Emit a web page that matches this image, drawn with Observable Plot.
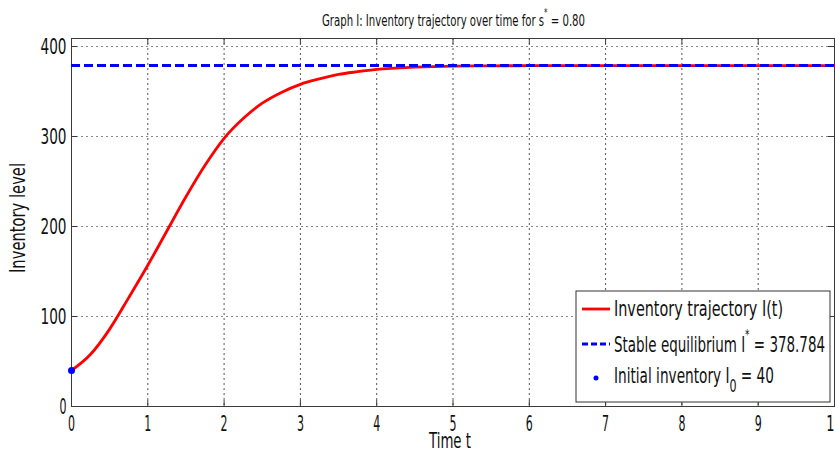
<!DOCTYPE html>
<html><head><meta charset="utf-8">
<script src="https://cdn.jsdelivr.net/npm/d3@7"></script>
<script src="https://cdn.jsdelivr.net/npm/@observablehq/plot@0.6"></script>
<style>body{margin:0;background:#fff} #chart{width:835px;height:452px} svg text{font-stretch:condensed}</style>
</head><body><div id="chart"></div>
<script>
const times = [0,0.25,0.5,0.75,1,1.25,1.5,1.75,2,2.25,2.5,2.75,3,3.25,3.5,3.75,4,4.5,5,5.5,6,7,8,9,10];
const inventory = [40,58,86,121,157,195,233,268,298,320,337,349,358,364,369,372,374.5,377,378.2,378.5,378.7,378.78,378.78,378.78,378.78];
const equilibrium = 378.784;
const initialTime = 0;
const initialInventory = 40;
const xTicks = [0,1,2,3,4,5,6,7,8,9,10];
const yTicks = [0,100,200,300,400];
const titleText = "Graph I: Inventory trajectory over time for s";
const titleValue = " = 0.80";
const xLabel = "Time t";
const yLabel = "Inventory level";
const legendLabels = ["Inventory trajectory I(t)", "Stable equilibrium I", "Initial inventory I"];

const series = times.map((t, i) => ({t, v: inventory[i]}));
const FONT = '"DejaVu Sans Condensed","DejaVu Sans",sans-serif';
const AX = "#3a3a3a";

const plot = Plot.plot({
  width: 835, height: 452,
  marginLeft: 71, marginRight: 1, marginTop: 38, marginBottom: 46,
  style: {fontFamily: FONT, background: "#fff", overflow: "visible", color: "#111"},
  x: {domain: [0, 10]},
  y: {domain: [0, 408.9]},
  marks: [
    Plot.gridX(xTicks, {stroke: "#555", strokeOpacity: 1, strokeDasharray: "2,3"}),
    Plot.gridY(yTicks.filter(d => d > 0), {stroke: "#888", strokeOpacity: 1, strokeDasharray: "2,3"}),
    Plot.tickX(xTicks, {stroke: AX, insetTop: 362}),
    Plot.tickX(xTicks, {stroke: AX, insetBottom: 362}),
    Plot.tickY(yTicks, {stroke: AX, insetRight: 757}),
    Plot.tickY(yTicks, {stroke: AX, insetLeft: 757}),
    Plot.frame({stroke: AX}),
    Plot.line(series, {x: "t", y: "v", stroke: "#ff0000", strokeWidth: 2.8, curve: "monotone-x"}),
    Plot.ruleY([equilibrium], {stroke: "#0000ff", strokeWidth: 3, strokeDasharray: "9,4"}),
    Plot.dot([{t: initialTime, v: initialInventory}], {x: "t", y: "v", r: 3.5, fill: "#0000ff"}),
    Plot.axisX(xTicks, {tickSize: 0, tickPadding: 9, fontSize: 22, label: null}),
    Plot.axisY(yTicks, {tickSize: 0, tickPadding: 5, fontSize: 22, label: null})
  ]
});
document.getElementById("chart").appendChild(plot);

const svg = d3.select(plot);
// compress tick labels to the narrow look of the original
svg.selectAll('g[aria-label="x-axis tick label"] text, g[aria-label="y-axis tick label"] text')
  .each(function() {
    const n = this.textContent.length;
    this.setAttribute("textLength", 9.5 * n - 2.5);
    this.setAttribute("lengthAdjust", "spacingAndGlyphs");
  });
function fit(sel, w) { sel.attr("textLength", w).attr("lengthAdjust", "spacingAndGlyphs"); return sel; }

// title
const t = svg.append("text").attr("x", 453.5).attr("y", 26).attr("text-anchor", "middle")
  .attr("font-size", 16).attr("fill", "#111").attr("font-family", FONT);
t.append("tspan").text(titleText);
t.append("tspan").attr("dy", -10).attr("font-size", 11).text("*");
t.append("tspan").attr("dy", 10).text(titleValue);
fit(t, 263);
// axis labels
fit(svg.append("text").attr("x", 450).attr("y", 448).attr("text-anchor", "middle")
  .attr("font-size", 22).attr("fill", "#111").attr("font-family", FONT).text(xLabel), 42);
fit(svg.append("text").attr("transform", "translate(25,218) rotate(-90)").attr("text-anchor", "middle")
  .attr("font-size", 21).attr("fill", "#111").attr("font-family", FONT).text(yLabel), 110);
// legend
const lg = svg.append("g").attr("font-family", FONT).attr("font-size", 21).attr("fill", "#111")
  .attr("text-anchor", "start");
lg.append("rect").attr("x", 576).attr("y", 291).attr("width", 254).attr("height", 111)
  .attr("fill", "#fff").attr("stroke", "#333");
lg.append("line").attr("x1", 582).attr("x2", 610).attr("y1", 309).attr("y2", 309)
  .attr("stroke", "#ff0000").attr("stroke-width", 2.8);
lg.append("line").attr("x1", 582).attr("x2", 610).attr("y1", 344).attr("y2", 344)
  .attr("stroke", "#0000ff").attr("stroke-width", 2.8).attr("stroke-dasharray", "6,3");
lg.append("circle").attr("cx", 596).attr("cy", 378).attr("r", 2.5).attr("fill", "#0000ff");
fit(lg.append("text").attr("x", 614).attr("y", 316).text(legendLabels[0]), 169);
const l2 = lg.append("text").attr("x", 614).attr("y", 352);
l2.append("tspan").text(legendLabels[1]);
l2.append("tspan").attr("dy", -13).attr("font-size", 14).text("*");
l2.append("tspan").attr("dy", 13).text(" = " + equilibrium);
fit(l2, 211);
const l3 = lg.append("text").attr("x", 614).attr("y", 383);
l3.append("tspan").text(legendLabels[2]);
l3.append("tspan").attr("dy", 9).attr("font-size", 17).text("0");
l3.append("tspan").attr("dy", -9).text(" = " + initialInventory);
fit(l3, 160);
</script>
</body></html>
